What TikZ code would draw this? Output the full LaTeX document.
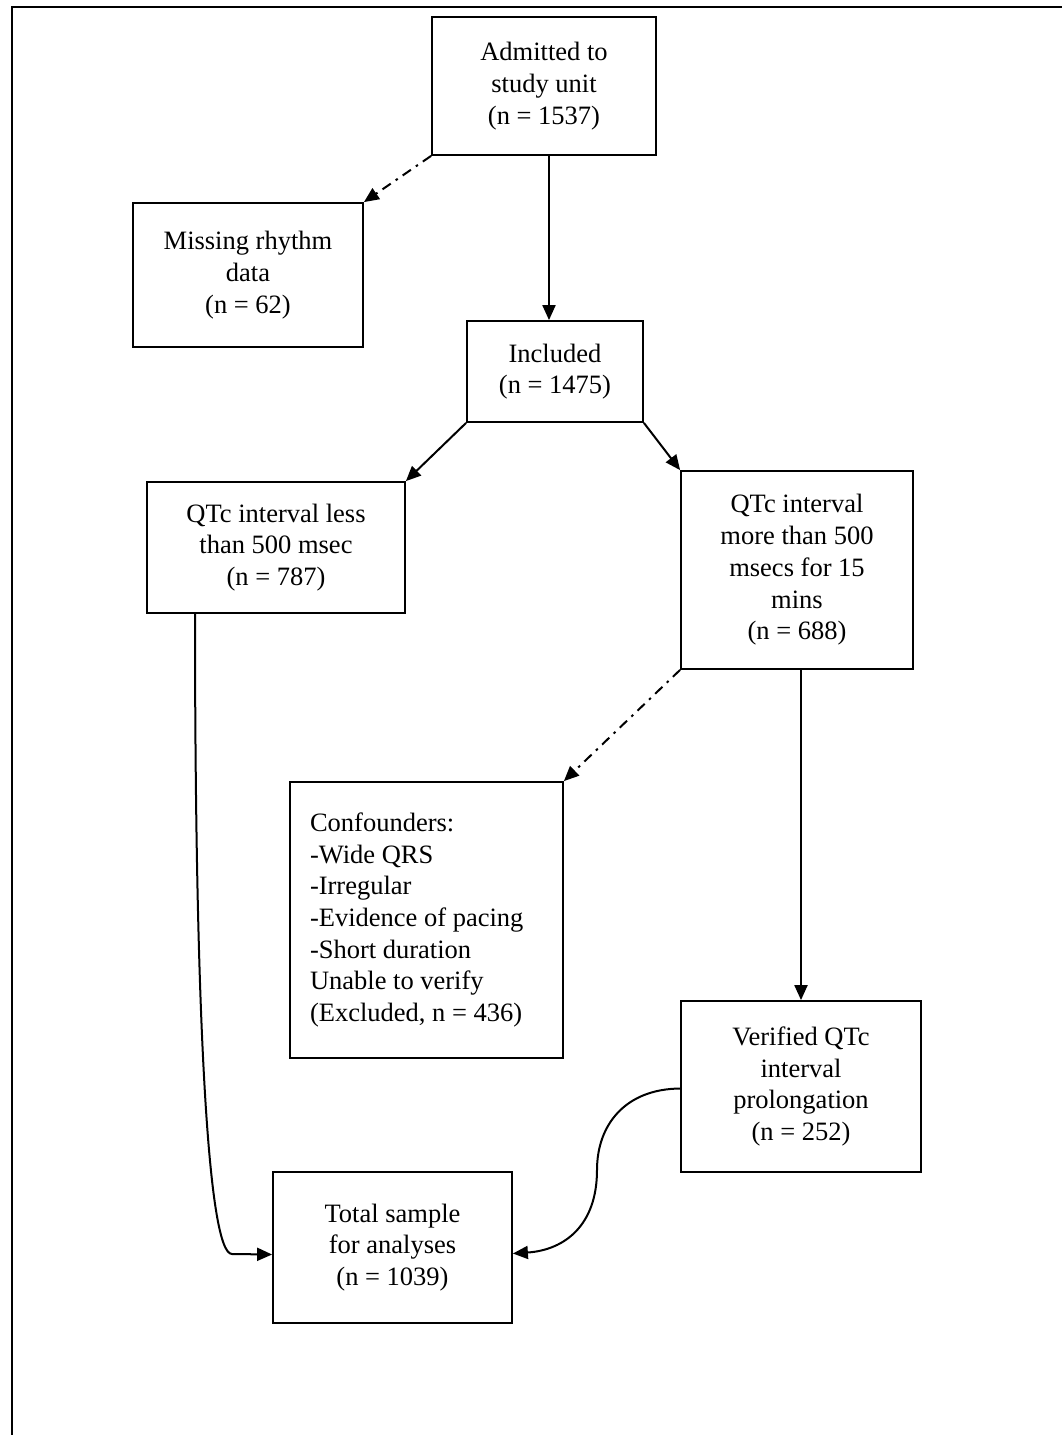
\documentclass[tikz,border=0pt]{standalone}
\usepackage{fontspec}
\setmainfont{Liberation Serif}
\usetikzlibrary{arrows.meta}
\newcommand{\fzz}{\fontsize{26.5}{31.7}\selectfont}
\begin{document}
\begin{tikzpicture}[x=1pt,y=-1pt,
  box/.style={draw, line width=1.8pt, inner sep=0pt, align=center, font=\fzz},
  arr/.style={line width=2pt, -{Triangle[length=15pt,width=13pt]}},
  dd/.style={arr, dash pattern=on 10pt off 6pt on 2.5pt off 6pt}]
\useasboundingbox (0,0) rectangle (1061,1435);
\draw[line width=2pt] (12,1445) -- (12,7) -- (1070,7);

\node[box, minimum width=224pt, minimum height=138pt] (adm) at (544,86) {Admitted to\\study unit\\(n = 1537)};
\node[box, minimum width=230pt, minimum height=144pt] (miss) at (248,275) {Missing rhythm\\data\\(n = 62)};
\node[box, minimum width=176pt, minimum height=101pt] (inc) at (555,371.5) {Included\\(n = 1475)};
\node[box, minimum width=258pt, minimum height=131pt] (less) at (276,547.5) {QTc interval less\\than 500 msec\\(n = 787)};
\node[box, minimum width=232pt, minimum height=198pt] (more) at (797,570) {QTc interval\\more than 500\\msecs for 15\\mins\\(n = 688)};
\node[box, align=flush left, inner xsep=20pt, text width=233pt, minimum height=276pt] (conf) at (426.5,920) {\spaceskip=0pt\xspaceskip=0pt\relax Confounders:\\-Wide QRS\\-Irregular\\-Evidence of pacing\\-Short duration\\Unable to verify\\(Excluded, n = 436)};
\node[box, minimum width=240pt, minimum height=171pt] (ver) at (801,1086.5) {Verified QTc\\interval\\prolongation\\(n = 252)};
\node[box, minimum width=239pt, minimum height=151pt] (tot) at (392.5,1247.5) {Total sample\\for analyses\\(n = 1039)};

\draw[arr] ([xshift=5pt]adm.south) -- ([xshift=5pt]adm.south |- inc.north);
\draw[dd] (adm.south west) -- (miss.north east);
\draw[arr] (inc.south west) -- (less.north east);
\draw[arr] (inc.south east) -- (more.north west);
\draw[dd] (more.south west) -- (conf.north east);
\draw[arr] (ver.north |- more.south) -- (ver.north);
\draw[arr] ([xshift=-81pt]less.south) .. controls (195,1000) and (207,1254) .. (232,1254) -- ([yshift=-7pt]tot.west);
\draw[arr] ([yshift=-2pt]ver.west) .. controls (625,1089) and (597,1125) .. (597,1170) .. controls (597,1225) and (565,1250) .. ([yshift=-6pt]tot.east);
\end{tikzpicture}
\end{document}
